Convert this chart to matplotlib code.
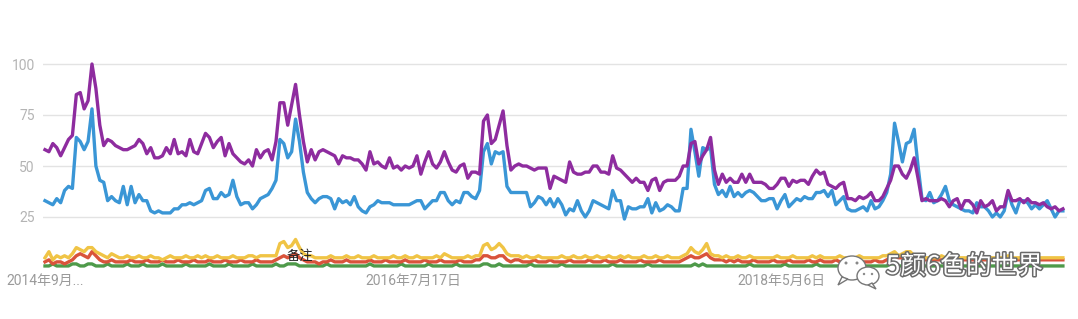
import matplotlib
matplotlib.use("Agg")
import matplotlib.pyplot as plt
import matplotlib.patheffects as pe
from matplotlib.patches import Ellipse, Polygon
import numpy as np

# ---------------- data (weekly, 2014-09-28 .. 2019-09-22) ----------------
purple = [58,57,61,59,55,59,63,65,85,86,78,82,100,88,70,60,63,62,60,59,58,58,59,60,63,61,56,59,54,54,
          55,59,56,63,56,57,55,63,57,56,61,66,64,59,62,64,55,61,56,54,52,51,53,50,58,54,57,58,53,62,
          81,81,70,80,90,
          75,62,52,58,53,57,58,57,
          56,55,51,55,54,54,53,53,51,48,57,51,52,50,49,54,49,50,48,50,49,50,55,46,52,57,51,49,52,57,
          52,48,47,50,51,44,47,
          47,46,72,75,61,63,70,77,60,48,50,51,50,50,49,48,49,49,49,39,45,44,43,42,52,47,46,46,47,47,
          50,50,47,47,46,55,49,
          48,46,44,42,44,42,42,38,43,44,38,42,43,43,43,45,50,50,
          61,62,51,55,58,64,48,41,46,42,44,42,42,46,42,46,42,42,42,
          41,39,39,41,44,44,40,43,42,43,43,41,45,48,46,47,41,40,39,41,42,34,34,33,35,34,35,37,33,33,
          35,39,43,50,50,46,44,48,54,
          44,33,34,33,33,33,34,33,30,33,34,29,33,33,31,27,33,30,31,33,28,30,30,38,33,33,34,32,34,32,
          32,31,32,30,29,30,28,29]

blue = [33,32,31,34,32,38,40,39,64,62,58,62,78,50,43,42,33,35,33,32,40,31,40,32,36,33,33,28,27,28,
        27,27,27,29,29,31,31,32,31,32,33,38,39,34,34,37,35,36,43,35,31,32,32,29,31,34,35,36,39,43,
        63,61,54,57,73,
        62,47,37,34,32,34,35,35,
        34,29,34,32,33,31,35,30,28,27,30,31,33,32,32,32,31,31,31,31,31,32,33,33,29,31,33,33,37,37,
        33,31,33,32,37,37,35,
        34,38,57,61,51,57,56,57,40,37,37,37,37,37,30,32,35,34,31,34,30,34,31,26,29,28,33,28,25,28,
        33,32,31,30,29,38,33,
        33,24,30,29,29,30,30,34,27,32,28,29,31,30,28,28,39,39,
        68,57,45,59,58,59,41,36,38,35,40,35,37,35,37,38,37,35,33,
        33,34,34,29,33,36,30,32,34,33,35,34,34,37,37,38,35,38,31,33,35,29,28,28,29,30,28,33,29,30,
        33,37,46,71,62,52,61,62,68,
        50,34,33,37,32,33,36,40,33,31,30,29,28,28,27,32,30,30,28,25,27,25,28,37,31,27,33,33,32,29,
        31,29,31,33,29,25,28,28]

yellow = [5,8,4,6,5,6,5,7,10,9,8,10,10,8,7,6,5,7,6,5,
          5,6,5,5,6,5,5,6,5,5,4,5,6,5,5,5,6,5,5,6,
          5,6,5,5,6,5,5,5,6,5,5,5,6,6,5,6,6,6,6,6,
          12,13,10,11,14,10,7,6,6,5,5,5,5,6,5,5,5,6,5,5,
          6,5,5,5,6,5,5,5,5,6,5,5,6,5,5,6,5,5,5,5,
          6,5,7,6,5,5,5,5,6,5,6,6,11,12,9,10,12,10,7,6,
          6,6,5,6,5,5,6,5,5,5,5,5,6,5,5,6,5,5,6,5,
          5,6,5,5,6,5,5,6,5,6,5,5,5,6,5,5,6,5,5,6,
          5,5,5,6,7,10,8,7,9,12,7,6,6,5,6,5,5,6,5,5,
          6,5,5,5,5,5,5,6,5,5,5,6,5,5,5,5,6,5,6,5,
          5,5,5,6,5,5,5,5,6,5,5,5,5,5,6,6,7,8,6,7,
          8,8,6,5,5,5,5,5,5,6,5,5,5,5,5,5,5,5,5,5,
          5,5,5,5,5,5,6,5,5,5,5,5,5,5,5,5,5,5,5,5,5]

red = [3,4,2,3,3,2,3,4,6,7,6,5,8,6,4,3,3,4,3,3,
       3,3,4,3,3,3,4,3,3,3,4,3,3,3,4,3,3,3,4,3,
       3,3,4,3,3,3,4,3,3,3,4,3,3,3,4,3,3,3,3,4,
       5,6,5,6,7,5,4,3,3,3,2,3,3,4,3,3,3,4,3,3,
       3,3,3,4,3,3,3,4,3,3,3,3,4,3,3,3,3,4,3,3,
       3,4,3,3,3,3,4,3,3,3,4,4,6,6,5,5,6,6,4,3,
       4,4,3,3,3,4,3,3,3,4,3,3,3,3,4,3,3,3,3,4,
       3,3,3,4,3,3,3,4,3,3,3,3,4,3,3,3,3,4,3,3,
       3,3,3,4,5,6,5,5,6,7,5,4,4,4,3,4,3,4,3,3,
       3,4,3,3,3,3,4,3,3,3,4,3,3,3,3,4,3,3,4,3,
       3,3,4,3,3,3,3,4,3,3,3,3,4,3,3,4,5,6,5,5,
       6,6,5,4,4,4,4,4,4,4,4,4,4,4,4,4,4,4,4,4,
       4,4,4,4,4,4,4,4,4,4,4,4,4,4,4,4,4,4,4,4,4]

green = [1,1,2,1,1,1,1,2,2,1,1,2,2,1,1,1,2,1,1,1,
         1,2,1,1,1,2,1,1,1,1,2,1,1,1,1,1,2,1,1,1,
         1,1,2,1,1,1,1,2,1,1,1,1,1,2,1,1,1,1,1,2,
         1,1,2,2,2,1,1,1,1,1,1,1,2,1,1,1,1,1,1,1,
         1,1,1,2,1,1,1,1,1,1,1,2,1,1,1,1,1,1,2,1,
         1,1,1,1,1,2,1,1,1,1,1,1,2,2,1,1,2,1,1,1,
         1,1,1,1,2,1,1,1,1,1,1,1,2,1,1,1,1,1,1,1,
         1,1,1,1,1,2,1,1,1,1,1,1,1,1,2,1,1,1,1,1,
         1,1,1,1,1,1,2,1,2,1,1,1,1,1,1,1,1,1,1,1,
         2,1,1,1,1,1,1,1,1,2,1,1,1,1,1,1,1,2,1,1,
         1,1,1,1,1,1,1,1,1,1,1,1,1,1,1,1,2,2,1,1,
         1,1,1,1,1,1,1,1,1,1,1,1,1,1,1,1,1,1,1,1,
         1,1,1,1,1,1,1,1,1,1,1,1,1,1,1,1,1,1,1,1,1]

ytick_vals = [25, 50, 75, 100]
xtick_idx = [0, 94, 188]
xtick_labels = ["2014年9月...", "2016年7月17日", "2018年5月6日"]

# ---------------- figure ----------------
plt.rcParams['font.family'] = ['Roboto', 'Noto Sans CJK SC', 'DejaVu Sans']

W, H = 1078, 319
fig = plt.figure(figsize=(W/100, H/100), dpi=100)
fig.patch.set_facecolor('white')

ax_l, ax_r, ax_t, ax_b = 43, 1067, 50, 270
ax = fig.add_axes([ax_l/W, (H-ax_b)/H, (ax_r-ax_l)/W, (ax_b-ax_t)/H])
pxw = 3.915
x0 = (45 - ax_l) / pxw
ax.set_xlim(-x0, (ax_r - ax_l)/pxw - x0)
ax.set_ylim((268-270)/2.04, (268-50)/2.04)

x = np.arange(len(purple))
for v in ytick_vals:
    ax.axhline(v, color='#e3e3e3', lw=1.0, zorder=0)

lw_small = 2.4
ax.plot(x, green, color='#4e9a4a', lw=lw_small, zorder=2, solid_joinstyle='round')
ax.plot(x, red, color='#d9533b', lw=lw_small, zorder=3, solid_joinstyle='round')
ax.plot(x, yellow, color='#f0c445', lw=lw_small, zorder=4, solid_joinstyle='round')
ax.plot(x, blue, color='#3a96d6', lw=2.4, zorder=5, solid_joinstyle='round', clip_on=False)
ax.plot(x, purple, color='#8e2c9f', lw=2.4, zorder=6, solid_joinstyle='round', clip_on=False)

for s in ax.spines.values():
    s.set_visible(False)
ax.set_yticks(ytick_vals)
ax.set_yticklabels([str(v) for v in ytick_vals])
ax.tick_params(axis='y', length=0, pad=6, labelsize=10, labelcolor='#b4b4b4')
ax.set_xticks(xtick_idx)
ax.set_xticklabels(xtick_labels)
ax.tick_params(axis='x', length=0, pad=3, labelsize=10, labelcolor='#9a9a9a')

# annotation text
fig.text(300/W, 1 - 256/H, "备注", ha='center', va='center', fontsize=9.5, color='#222222',
         family=['Noto Sans CJK SC', 'DejaVu Sans'], zorder=10)

# watermark: wechat icon + text
wax = fig.add_axes([0, 0, 1, 1], facecolor='none')
wax.set_xlim(0, W); wax.set_ylim(H, 0); wax.axis('off')
e1 = Ellipse((852, 268), 28, 24, facecolor='white', edgecolor='#777777', lw=1.0, zorder=1)
t1 = Polygon([[842, 277], [838, 285], [848, 279]], closed=True, facecolor='white', edgecolor='#777777', lw=1.0, zorder=1)
e2 = Ellipse((868, 276), 22, 18, facecolor='white', edgecolor='#777777', lw=1.0, zorder=2)
t2 = Polygon([[872, 283], [876, 289], [868, 285]], closed=True, facecolor='white', edgecolor='#777777', lw=1.0, zorder=2)
for p in (e1, t1, e2, t2):
    wax.add_patch(p)
for (cx, cy) in [(846, 263), (857, 263)]:
    wax.add_patch(Ellipse((cx, cy), 3, 3, facecolor='#888888', edgecolor='none', zorder=3))
for (cx, cy) in [(864, 274), (872, 274)]:
    wax.add_patch(Ellipse((cx, cy), 2.4, 2.4, facecolor='#888888', edgecolor='none', zorder=3))
wax.text(886, 267, "5颜6色的世界", ha='left', va='center', fontsize=18.5, color='white',
         family=['Noto Sans CJK SC', 'DejaVu Sans'],
         path_effects=[pe.withStroke(linewidth=2.2, foreground='#6a6a6a')], zorder=4)

fig.savefig('out.png', dpi=100, facecolor='white')
